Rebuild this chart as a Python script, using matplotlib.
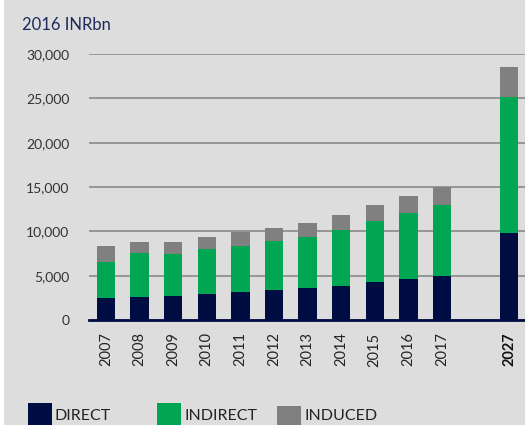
import matplotlib.pyplot as plt
from matplotlib.patches import Rectangle

years = ['2007', '2008', '2009', '2010', '2011', '2012', '2013', '2014', '2015', '2016', '2017', '2027']
positions = [0, 1, 2, 3, 4, 5, 6, 7, 8, 9, 10, 12]
direct = [2450, 2600, 2740, 2970, 3160, 3380, 3610, 3870, 4290, 4660, 4960, 9770]
indirect_top = [6580, 7560, 7440, 8010, 8380, 8870, 9360, 10150, 11130, 12100, 12970, 25150]
total = [8350, 8760, 8830, 9400, 9890, 10410, 10980, 11880, 12970, 14020, 14960, 28500]

indirect = [b - a for a, b in zip(direct, indirect_top)]
induced = [c - b for b, c in zip(indirect_top, total)]

navy = '#000d42'
green = '#00a651'
grey = '#808080'
bg = '#dddddd'

plt.rcParams['font.family'] = ['Lato', 'DejaVu Sans']

fig = plt.figure(figsize=(5.25, 4.25), dpi=100, facecolor=bg)
fig.patches.append(Rectangle((0, 0), 4 / 525, 1, transform=fig.transFigure,
                             facecolor='white', edgecolor='none'))
ax = fig.add_axes([89 / 525, 1 - 320 / 425, 1 - 89 / 525, (320 - 54) / 425])
ax.set_facecolor(bg)

w = 0.55
ax.bar(positions, direct, width=w, color=navy, zorder=3)
ax.bar(positions, indirect, width=w, bottom=direct, color=green, zorder=3)
ax.bar(positions, induced, width=w, bottom=indirect_top, color=grey, zorder=3)

ax.set_ylim(0, 30000)
ax.set_xlim(-0.506, 12.47)
ax.set_yticks(range(0, 30001, 5000))
ax.set_yticklabels(['0', '5,000', '10,000', '15,000', '20,000', '25,000', '30,000'],
                   fontsize=10, color='#333333')
ax.yaxis.grid(True, color='#8a8a8a', linewidth=1.2, zorder=0)
ax.set_axisbelow(True)
ax.tick_params(axis='y', length=0, pad=14)
ax.tick_params(axis='x', length=0, pad=9)
ax.set_xticks(positions)
ax.set_xticklabels(years, rotation=90, fontsize=10.5, color='#222222')
ax.get_xticklabels()[-1].set_fontweight('bold')
ax.get_xticklabels()[-1].set_color('#111111')

for s in ['top', 'right', 'left']:
    ax.spines[s].set_visible(False)
ax.spines['bottom'].set_color(navy)
ax.spines['bottom'].set_linewidth(2)
ax.spines['bottom'].set_zorder(4)

fig.text(22 / 525, 1 - 25 / 425, '2016 INRbn', fontsize=12, color='#1c2b5a', va='center')

# legend along the bottom
for x0, x1, ytop, col, label in [(28, 52, 403, navy, 'DIRECT'),
                                 (157, 181, 403, green, 'INDIRECT'),
                                 (277, 301, 406, grey, 'INDUCED')]:
    fig.patches.append(Rectangle((x0 / 525, 0), (x1 - x0) / 525, 1 - ytop / 425,
                                 transform=fig.transFigure, facecolor=col, edgecolor='none'))
    fig.text((x1 + 3) / 525, 1 - 416 / 425, label, fontsize=11.5, color='#222222', va='center')

fig.savefig('out.png', dpi=100, facecolor=bg)
